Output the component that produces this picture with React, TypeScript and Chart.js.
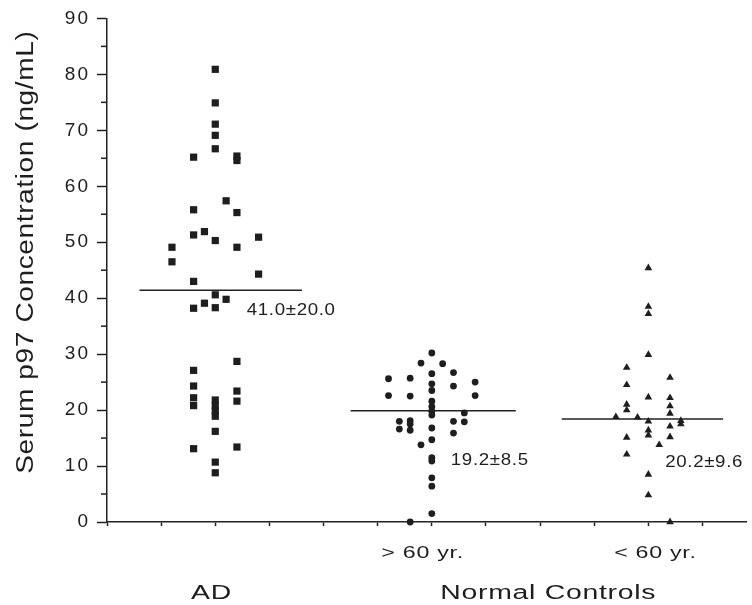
import React, { useEffect, useRef } from 'react';
import { Chart, registerables } from 'chart.js';

Chart.register(...registerables);

const FONT = '"Liberation Sans", Arial, Helvetica, sans-serif';
const INK = '#1e1e1e';

// ---- data ----
const adX = [1.2, 1.2, 1.6, 1.6, 1.6, 1.6, 1.6, 1.6, 1.6, 1.6, 1.6, 1.6, 1.8, 1.8, 2.0, 2.0, 2.0, 2.0, 2.0, 2.0, 2.0, 2.0, 2.0, 2.0, 2.0, 2.0, 2.0, 2.0, 2.0, 2.2, 2.2, 2.4, 2.4, 2.4, 2.4, 2.4, 2.4, 2.4, 2.4, 2.8, 2.8];
const adY = [49.1, 46.5, 65.2, 55.8, 51.3, 43.0, 38.2, 27.1, 24.3, 22.2, 20.8, 13.1, 51.9, 39.1, 80.9, 74.9, 71.1, 69.1, 66.7, 50.3, 40.6, 38.3, 21.8, 20.8, 19.8, 18.9, 16.2, 10.7, 8.8, 57.4, 39.8, 65.4, 64.6, 55.3, 49.1, 28.7, 23.4, 21.6, 13.4, 50.9, 44.3];

const oldX = [5.2, 5.2, 5.4, 5.4, 5.6, 5.6, 5.6, 5.6, 5.6, 5.6, 5.8, 5.8, 6.0, 6.0, 6.0, 6.0, 6.0, 6.0, 6.0, 6.0, 6.0, 6.0, 6.0, 6.0, 6.0, 6.0, 6.0, 6.2, 6.4, 6.4, 6.4, 6.4, 6.6, 6.6, 6.8, 6.8];
const oldY = [25.6, 22.6, 18.0, 16.6, 25.7, 22.5, 18.1, 17.5, 16.4, 0, 28.4, 13.8, 30.2, 26.5, 24.7, 23.5, 21.6, 20.6, 19.8, 19.1, 16.8, 14.7, 11.5, 10.9, 7.9, 6.4, 1.5, 28.3, 26.7, 24.3, 18.0, 15.9, 19.5, 17.9, 25.0, 22.6];

const youngX = [9.4, 9.6, 9.6, 9.6, 9.6, 9.6, 9.6, 9.8, 10.0, 10.0, 10.0, 10.0, 10.0, 10.0, 10.0, 10.0, 10.0, 10.0, 10.2, 10.4, 10.4, 10.4, 10.4, 10.4, 10.4, 10.4, 10.6, 10.6];
const youngY = [18.8, 27.6, 24.5, 21.0, 20.0, 15.1, 12.1, 18.7, 45.4, 38.5, 37.2, 29.9, 22.3, 18.0, 16.4, 15.5, 8.5, 4.8, 13.8, 25.8, 22.2, 20.7, 19.4, 17.1, 15.2, 0, 18.1, 17.5];

const meanValues = [41.4, 19.9, 18.4];
const meanStarts = [0.6, 4.5, 8.4];
const meanEnds = [3.6, 7.55, 11.38];

const meanLabels = ['41.0\u00B120.0', '19.2\u00B18.5', '20.2\u00B19.6'];
const meanLabelX = [2.58, 6.35, 10.31];
const meanLabelY = [37.0, 10.2, 9.9];

const subgroupLabels = ['> 60 yr.', '< 60 yr.'];
const subgroupX = [5.83, 10.13];
const groupLabels = ['AD', 'Normal Controls'];
const groupX = [1.93, 8.15];

const yTickValues = [0, 10, 20, 30, 40, 50, 60, 70, 80, 90];
const yMinorTicks = [5, 15, 25, 35, 45, 55, 65, 75, 85];
const yTitle = 'Serum p97 Concentration (ng/mL)';

const X_MAX = 11.82;

const toPoints = (xs: number[], ys: number[]) => xs.map((x, i) => ({ x, y: ys[i] }));

function drawText(
  ctx: CanvasRenderingContext2D,
  text: string,
  x: number,
  y: number,
  size: number,
  stretch: number,
  spacing: number,
  align: CanvasTextAlign,
  rotate = false
) {
  ctx.save();
  ctx.translate(x, y);
  if (rotate) ctx.rotate(-Math.PI / 2);
  ctx.scale(stretch, 1);
  ctx.font = `${size}px ${FONT}`;
  (ctx as any).letterSpacing = `${spacing}px`;
  ctx.fillStyle = INK;
  ctx.textAlign = align;
  ctx.textBaseline = 'alphabetic';
  ctx.fillText(text, 0, 0);
  ctx.restore();
}

const annotPlugin = {
  id: 'annot',
  beforeDraw(chart: any) {
    (chart.ctx as any).letterSpacing = '2px';
  },
  afterDraw(chart: any) {
    const ctx: CanvasRenderingContext2D = chart.ctx;
    (ctx as any).letterSpacing = '0px';
    const xs = chart.scales.x;
    const ys = chart.scales.y;
    const area = chart.chartArea;

    // minor y ticks
    ctx.save();
    ctx.strokeStyle = INK;
    ctx.lineWidth = 1.5;
    yMinorTicks.forEach((v) => {
      const py = ys.getPixelForValue(v);
      ctx.beginPath();
      ctx.moveTo(area.left - 6, py);
      ctx.lineTo(area.left, py);
      ctx.stroke();
    });
    ctx.restore();

    // mean labels
    meanLabels.forEach((t, i) => {
      drawText(ctx, t, xs.getPixelForValue(meanLabelX[i]), ys.getPixelForValue(meanLabelY[i]), 17, 1.1, 0.6, 'left');
    });

    // subgroup labels
    subgroupLabels.forEach((t, i) => {
      drawText(ctx, t, xs.getPixelForValue(subgroupX[i]), area.bottom + 36, 16, 1.45, 0.5, 'center');
    });

    // group labels
    groupLabels.forEach((t, i) => {
      drawText(ctx, t, xs.getPixelForValue(groupX[i]), area.bottom + 77, 20, 1.42, 0.5, 'center');
    });

    // y title
    drawText(ctx, yTitle, 33.3, (area.top + area.bottom) / 2 - 18, 23, 1.22, 0.5, 'center', true);
  },
};

export default function App() {
  const ref = useRef<HTMLCanvasElement | null>(null);

  useEffect(() => {
    if (!ref.current) return;
    const markerColor = INK;
    const meanDatasets = meanValues.map((v, i) => ({
      type: 'line' as const,
      data: [
        { x: meanStarts[i], y: v },
        { x: meanEnds[i], y: v },
      ],
      borderColor: '#222',
      borderWidth: 1.5,
      pointRadius: 0,
      showLine: true,
      fill: false,
      clip: false as any,
    }));

    const chart = new Chart(ref.current, {
      type: 'scatter',
      data: {
        datasets: [
          {
            label: 'AD',
            data: toPoints(adX, adY),
            pointStyle: 'rect',
            pointRadius: 5.1,
            backgroundColor: markerColor,
            borderColor: markerColor,
            borderWidth: 0,
            clip: false as any,
          },
          {
            label: '> 60 yr.',
            data: toPoints(oldX, oldY),
            pointStyle: 'circle',
            pointRadius: 3.4,
            backgroundColor: markerColor,
            borderColor: markerColor,
            borderWidth: 0,
            clip: false as any,
          },
          {
            label: '< 60 yr.',
            data: toPoints(youngX, youngY),
            pointStyle: 'triangle',
            pointRadius: 4.4,
            backgroundColor: markerColor,
            borderColor: markerColor,
            borderWidth: 0,
            clip: false as any,
          },
          ...(meanDatasets as any[]),
        ],
      },
      options: {
        responsive: false,
        animation: false,
        events: [],
        layout: { padding: { top: 17, left: 0, right: 0, bottom: 0 } },
        plugins: {
          legend: { display: false },
          tooltip: { enabled: false },
          title: { display: false },
        },
        scales: {
          x: {
            type: 'linear',
            min: 0,
            max: X_MAX,
            afterFit: (s: any) => {
              s.height = 83;
            },
            afterBuildTicks: (s: any) => {
              const t = [];
              for (let v = 0; v <= X_MAX; v += 1) t.push({ value: v });
              s.ticks = t;
            },
            ticks: {
              autoSkip: false,
              callback: () => '',
            },
            grid: {
              drawOnChartArea: false,
              drawTicks: true,
              tickLength: 4,
              tickColor: '#222',
              tickWidth: 1.5,
            },
            border: { display: true, color: '#222', width: 1.5 },
          },
          y: {
            type: 'linear',
            min: 0,
            max: 90,
            afterFit: (s: any) => {
              s.width = 107;
            },
            afterBuildTicks: (s: any) => {
              s.ticks = yTickValues.map((v) => ({ value: v }));
            },
            ticks: {
              autoSkip: false,
              padding: 7,
              color: INK,
              font: { family: FONT, size: 19 },
              callback: (v: any) => String(v),
            },
            grid: {
              drawOnChartArea: false,
              drawTicks: true,
              tickLength: 10,
              tickColor: '#222',
              tickWidth: 1.5,
            },
            border: { display: true, color: '#222', width: 1.5 },
          },
        },
      },
      plugins: [annotPlugin],
    } as any);

    return () => chart.destroy();
  }, []);

  return (
    <div style={{ position: 'fixed', left: 0, top: 0, width: 752, height: 605, background: '#fff' }}>
      <canvas ref={ref} width={752} height={605} style={{ display: 'block', width: 752, height: 605 }} />
    </div>
  );
}
